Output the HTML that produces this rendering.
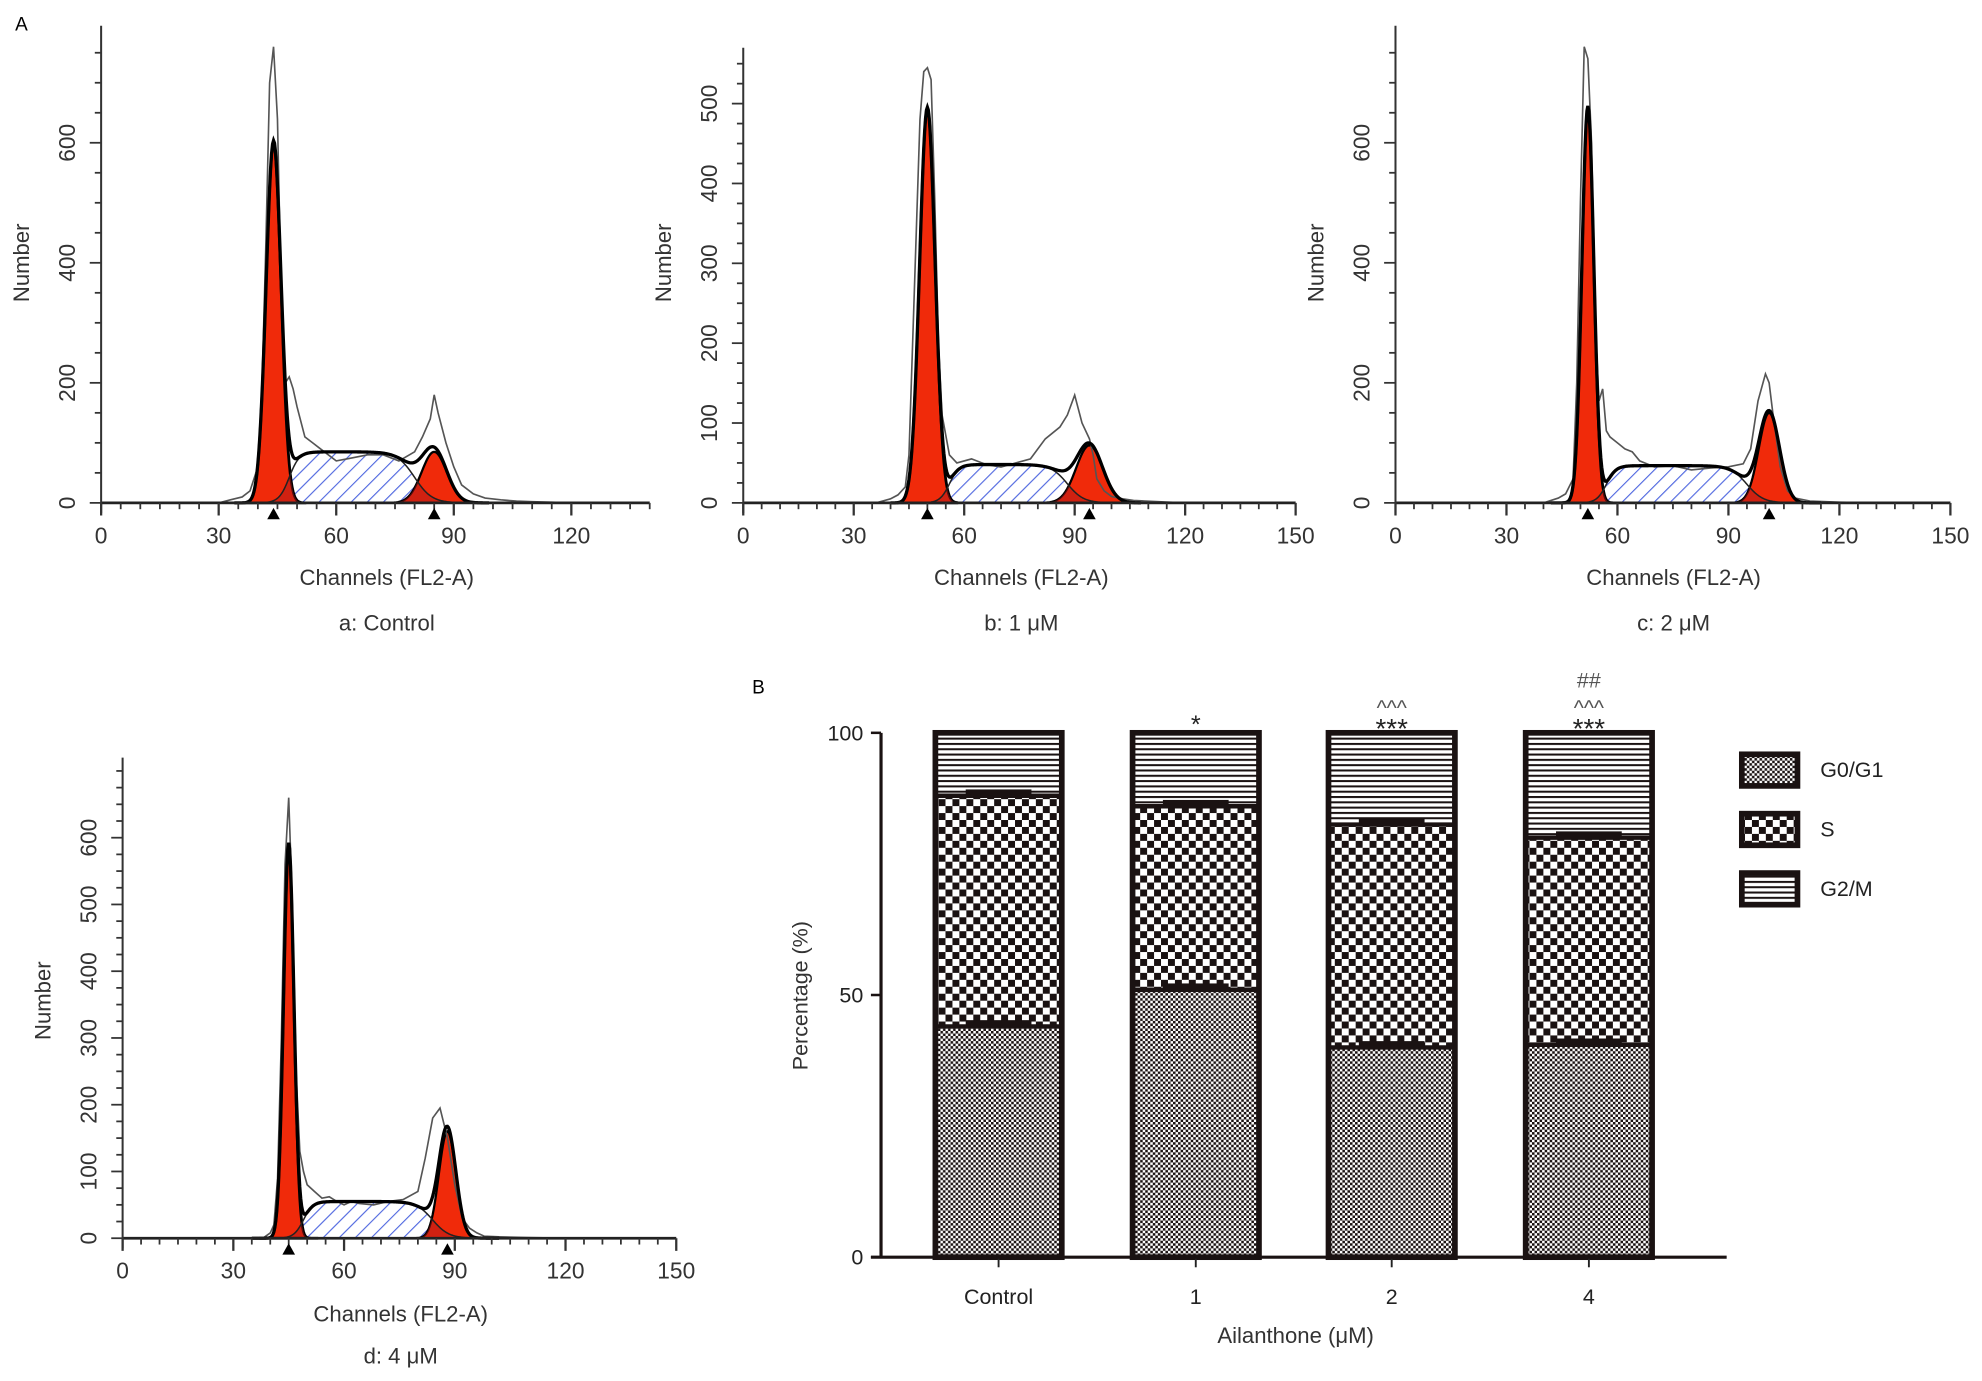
<!DOCTYPE html>
<html><head><meta charset="utf-8"><style>
html,body{margin:0;padding:0;background:#fff;}
svg{display:block;font-family:"Liberation Sans",Arial,sans-serif;}
</style></head><body>
<svg id="fig" width="1982" height="1381" viewBox="0 0 1568 1093" preserveAspectRatio="none" xmlns="http://www.w3.org/2000/svg">
<defs>
<pattern id="hatch" patternUnits="userSpaceOnUse" width="9" height="9" patternTransform="rotate(45)">
<rect width="9" height="9" fill="#fff"/><line x1="0" y1="0" x2="0" y2="9" stroke="#5068e0" stroke-width="1.8"/>
</pattern>
<pattern id="fine" patternUnits="userSpaceOnUse" width="4" height="4">
<rect width="4" height="4" fill="#fff"/><rect width="2" height="2" fill="#1a1212"/><rect x="2" y="2" width="2" height="2" fill="#1a1212"/>
</pattern>
<pattern id="check" patternUnits="userSpaceOnUse" width="11" height="11">
<rect width="11" height="11" fill="#fff"/><rect width="5.5" height="5.5" fill="#1a1212"/><rect x="5.5" y="5.5" width="5.5" height="5.5" fill="#1a1212"/>
</pattern>
<pattern id="hlines" patternUnits="userSpaceOnUse" width="8" height="4.2">
<rect width="8" height="4.2" fill="#fff"/><rect y="0" width="8" height="1.6" fill="#1a1212"/>
</pattern>
</defs>
<text x="12" y="24" font-size="15">A</text>
<text x="595" y="549" font-size="15">B</text>
<g id="hists"></g>
<g id="bars"></g>
</svg>
<script>
// ---------- histogram data ----------
const histNames = ["a: Control", "b: 1 \u03bcM", "c: 2 \u03bcM", "d: 4 \u03bcM"];
const g1Mean = [44, 50, 52, 45];
const g1Height = [600, 495, 660, 590];
const g1Sd = [1.9, 2.1, 1.6, 1.4];
const g2Mean = [85, 94, 101, 88];
const g2Height = [85, 72, 150, 160];
const g2Sd = [3.2, 3.6, 2.8, 2.3];
const sLevel = [85, 48, 62, 55];
const sStart = [48, 56, 57, 49];
const sEnd = [80, 88, 95, 84];
const rawX = [
 [30,33,36,38,40,41,42,43,44,45,46,47,48,49,50,52,54,56,60,64,68,72,76,80,82,84,85,86,88,90,92,95,98,102,106,110,115,120],
 [36,40,42,44,45,46,48,49,50,51,52,53,54,56,58,62,66,70,74,78,82,86,88,90,92,94,95,96,98,100,103,106,110,115,120],
 [40,44,46,48,49,50,51,52,53,54,55,56,57,58,60,62,64,66,70,75,80,85,90,94,96,98,100,101,102,104,106,108,112,120,130],
 [38,40,41,42,43,44,45,46,47,48,49,50,52,54,56,58,60,62,64,68,72,76,80,82,84,86,88,90,92,94,96,98,102,110,120,130]
];
const rawY = [
 [0,5,10,20,60,180,420,700,760,640,330,200,210,190,160,110,100,90,70,75,80,80,70,85,110,140,180,150,100,60,30,15,8,5,3,2,1,0],
 [0,5,10,20,60,200,480,540,545,530,380,200,110,60,50,55,48,45,50,55,80,95,110,135,100,80,60,30,15,8,5,3,2,1,0],
 [0,8,15,40,200,500,760,740,600,300,170,190,120,110,100,90,85,70,60,62,55,58,60,65,90,170,215,200,150,60,20,8,3,1,0],
 [0,8,20,90,300,560,660,500,250,130,100,80,70,60,62,55,50,55,52,50,55,58,70,120,180,195,150,80,30,15,8,3,2,1,0]
];
const xTickVals = [[0,30,60,90,120],[0,30,60,90,120,150],[0,30,60,90,120,150],[0,30,60,90,120,150]];
const yTickVals = [[0,200,400,600],[0,100,200,300,400,500],[0,200,400,600],[0,100,200,300,400,500,600]];
const xMaxCh = [140,150,150,150];
const yMaxCount = [795,570,795,720];
const yMinor = [50,25,50,25];

// ---------- bar chart data ----------
const groups = ["Control","1","2","4"];
const g0g1 = [44, 51, 40, 40.5];
const sPhase = [44, 35, 42.5, 39.5];
const g2m = [12, 14, 17.5, 20];
const sigMarks = [[], ["*"], ["***","^^^"], ["***","^^^","##"]];
const bYTicks = [0,50,100];

// layout (viewBox units)
const layout = [
 {x0:80, y0:398, pxCh:93/30, pxCt:95/200, titleY:463, capY:499},
 {x0:588, y0:398, pxCh:437/150, pxCt:316/500, titleY:463, capY:499},
 {x0:1104, y0:398, pxCh:439/150, pxCt:285/600, titleY:463, capY:499},
 {x0:97, y0:980, pxCh:438/150, pxCt:317/600, titleY:1046, capY:1079}
];
const NS="http://www.w3.org/2000/svg";
function mk(tag, attrs, parent){const e=document.createElementNS(NS,tag);for(const k in attrs)e.setAttribute(k,attrs[k]);parent.appendChild(e);return e;}
function gauss(x,m,h,s){return h*Math.exp(-0.5*((x-m)/s)**2);}
function sig(x){return 1/(1+Math.exp(-x));}

const H=document.getElementById('hists');
for(let p=0;p<4;p++){
 const L=layout[p];
 const X=c=>L.x0+c*L.pxCh, Y=v=>L.y0-v*L.pxCt;
 const g=mk('g',{},H);
 
 
 const sF=c=>sLevel[p]*sig((c-sStart[p])/1.3)*sig((sEnd[p]-c)/2.2);
 const g1F=c=>gauss(c,g1Mean[p],g1Height[p],g1Sd[p]);
 const g2F=c=>gauss(c,g2Mean[p],g2Height[p],g2Sd[p]);
 const path=(f,a,b)=>{let d='M'+X(a)+','+Y(0);for(let c=a;c<=b;c+=0.25)d+=' L'+X(c).toFixed(2)+','+Y(f(c)).toFixed(2);return d+' L'+X(b)+','+Y(0)+'Z';};
 const line=(f,a,b)=>{let d='';for(let c=a;c<=b;c+=0.25)d+=(d?' L':'M')+X(c).toFixed(2)+','+Y(f(c)).toFixed(2);return d;};
 const sp=mk('path',{d:path(sF,sStart[p]-10,sEnd[p]+12),fill:'url(#hatch)',stroke:'none'},g);
 
 
 const r1=mk('path',{d:path(g1F,g1Mean[p]-8,g1Mean[p]+8),fill:'#f02a0a',stroke:'#000','stroke-width':2.2},g);
 
 
 const r2=mk('path',{d:path(g2F,g2Mean[p]-12,g2Mean[p]+12),fill:'#f02a0a',stroke:'#000','stroke-width':1.8},g);
 
 
 mk('path',{d:path(c=>Math.min(sF(c),g1F(c)),g1Mean[p]-2,g1Mean[p]+8),fill:'#b01818',opacity:0.5},g);
 mk('path',{d:path(c=>Math.min(sF(c),g2F(c)),g2Mean[p]-12,g2Mean[p]+4),fill:'#b01818',opacity:0.5},g);
 mk('path',{d:line(sF,sStart[p]-8,sEnd[p]+10),fill:'none',stroke:'#222','stroke-width':1.2},g);
 let rd='';for(let i=0;i<rawX[p].length;i++)rd+=(i?' L':'M')+X(rawX[p][i]).toFixed(1)+','+Y(rawY[p][i]).toFixed(1);
 const raw=mk('path',{d:rd,fill:'none',stroke:'#555','stroke-width':1.3},g);
 
 
 const tot=mk('path',{d:line(c=>g1F(c)+g2F(c)+sF(c),g1Mean[p]-10,g2Mean[p]+14),fill:'none',stroke:'#000','stroke-width':2.6},g);
 
 
 mk('line',{x1:L.x0,y1:Y(0),x2:X(xMaxCh[p]),y2:Y(0),stroke:'#222','stroke-width':2.2},g);
 mk('line',{x1:L.x0,y1:Y(0)+8,x2:L.x0,y2:Y(yMaxCount[p]),stroke:'#333','stroke-width':1.6},g);
 for(let c=0;c<=xMaxCh[p];c+=5){const big=c%30===0;mk('line',{x1:X(c),y1:Y(0),x2:X(c),y2:Y(0)+(big?10:5),stroke:'#333','stroke-width':big?1.8:1.4},g);}
 for(let v=0;v<=yMaxCount[p];v+=yMinor[p]){const big=yTickVals[p].includes(v);mk('line',{x1:L.x0-(big?9:5),y1:Y(v),x2:L.x0,y2:Y(v),stroke:'#333','stroke-width':1.4},g);}
 xTickVals[p].forEach(v=>{const t=mk('text',{x:X(v),y:Y(0)+32,'font-size':18,'text-anchor':'middle',fill:'#333'},g);t.textContent=v;});
 yTickVals[p].forEach(v=>{const t=mk('text',{x:L.x0-27,y:Y(v),'font-size':18,'text-anchor':'middle',fill:'#333',transform:`rotate(-90 ${L.x0-27} ${Y(v)})`,dy:'0.35em'},g);t.textContent=v;});
 [g1Mean[p],g2Mean[p]].forEach(m=>mk('path',{d:`M${X(m)-5},${Y(0)+13} L${X(m)+5},${Y(0)+13} L${X(m)},${Y(0)+4}Z`,fill:'#000'},g));
 const xt=mk('text',{x:L.x0+(p==0?226:220),y:L.titleY,'font-size':17.5,'text-anchor':'middle',fill:'#333'},g);xt.textContent='Channels (FL2-A)';
 
 
 const cap=mk('text',{x:L.x0+(p==0?226:220),y:L.capY,'font-size':17.5,'text-anchor':'middle',fill:'#333'},g);cap.textContent=histNames[p];
 
 
 const yc=p==3?792:208, yx=L.x0-57;
 const yt=mk('text',{x:yx,y:yc,'font-size':17.5,'text-anchor':'middle',fill:'#333',transform:`rotate(-90 ${yx} ${yc})`},g);yt.textContent='Number';
 
 
}

// ---------- bar chart ----------
const B=document.getElementById('bars');
const bx0=697, by0=995, byPer=4.15;
const BY=v=>by0-v*byPer;
const barCx=[790,946,1101,1257], barW=100;
const markOffset={'*':0,'***':4,'^^^':-14,'##':-36};
const markSize={'*':20,'***':22,'^^^':17,'##':17};
groups.forEach((gname,i)=>{
 const g=mk('g',{},B);
 
 
 const l=barCx[i]-barW/2;
 const a=g0g1[i], b=a+sPhase[i], c=b+g2m[i];
 const s1=mk('rect',{x:l,y:BY(a),width:barW,height:a*byPer,fill:'url(#fine)'},g);
 
 
 const s2=mk('rect',{x:l,y:BY(b),width:barW,height:sPhase[i]*byPer,fill:'url(#check)'},g);
 
 
 const s3=mk('rect',{x:l,y:BY(c),width:barW,height:g2m[i]*byPer,fill:'url(#hlines)'},g);
 
 
 [a,b].forEach(v=>{mk('line',{x1:l,y1:BY(v),x2:l+barW,y2:BY(v),stroke:'#1a1212','stroke-width':3.5},g);
  mk('rect',{x:barCx[i]-26,y:BY(v)-5,width:52,height:6,fill:'#1a1212'},g);});
 mk('rect',{x:l,y:BY(c),width:barW,height:c*byPer,fill:'none',stroke:'#1a1212','stroke-width':4.5},g);
 mk('line',{x1:barCx[i],y1:by0,x2:barCx[i],y2:by0+8,stroke:'#222','stroke-width':1.5},g);
 const t=mk('text',{x:barCx[i],y:1032,'font-size':17,'text-anchor':'middle',fill:'#222'},g);t.textContent=gname;
 sigMarks[i].forEach((m,k)=>{const s=mk('text',{x:barCx[i],y:BY(c)+markOffset[m],'font-size':markSize[m],'text-anchor':'middle',fill:k==0?'#222':'#555'},g);s.textContent=m;
  
  });
});
mk('line',{x1:bx0,y1:BY(100),x2:bx0,y2:by0,stroke:'#1a1212','stroke-width':2.5},B);
mk('line',{x1:bx0-8,y1:by0,x2:1366,y2:by0,stroke:'#1a1212','stroke-width':2.5},B);
bYTicks.forEach(v=>{mk('line',{x1:bx0-8,y1:BY(v),x2:bx0,y2:BY(v),stroke:'#1a1212','stroke-width':2},B);
 const t=mk('text',{x:bx0-14,y:BY(v)+6,'font-size':17,'text-anchor':'end',fill:'#222'},B);t.textContent=v;});
const pt=mk('text',{x:639,y:788,'font-size':17,'text-anchor':'middle',fill:'#333',transform:'rotate(-90 639 788)'},B);pt.textContent='Percentage (%)';


const at=mk('text',{x:1025,y:1063,'font-size':17.5,'text-anchor':'middle',fill:'#333'},B);at.textContent='Ailanthone (\u03bcM)';


const legNames=["G0/G1","S","G2/M"], legFills=["url(#fine)","url(#check)","url(#hlines)"];
legNames.forEach((n,k)=>{const y=597+k*47;
 const g=mk('g',{},B);
 
 
 mk('rect',{x:1378,y:y,width:44,height:25,fill:legFills[k],stroke:'#1a1212','stroke-width':4.5},g);
 const t=mk('text',{x:1440,y:y+18,'font-size':17,fill:'#222'},g);t.textContent=n;});
</script>
</body></html>
